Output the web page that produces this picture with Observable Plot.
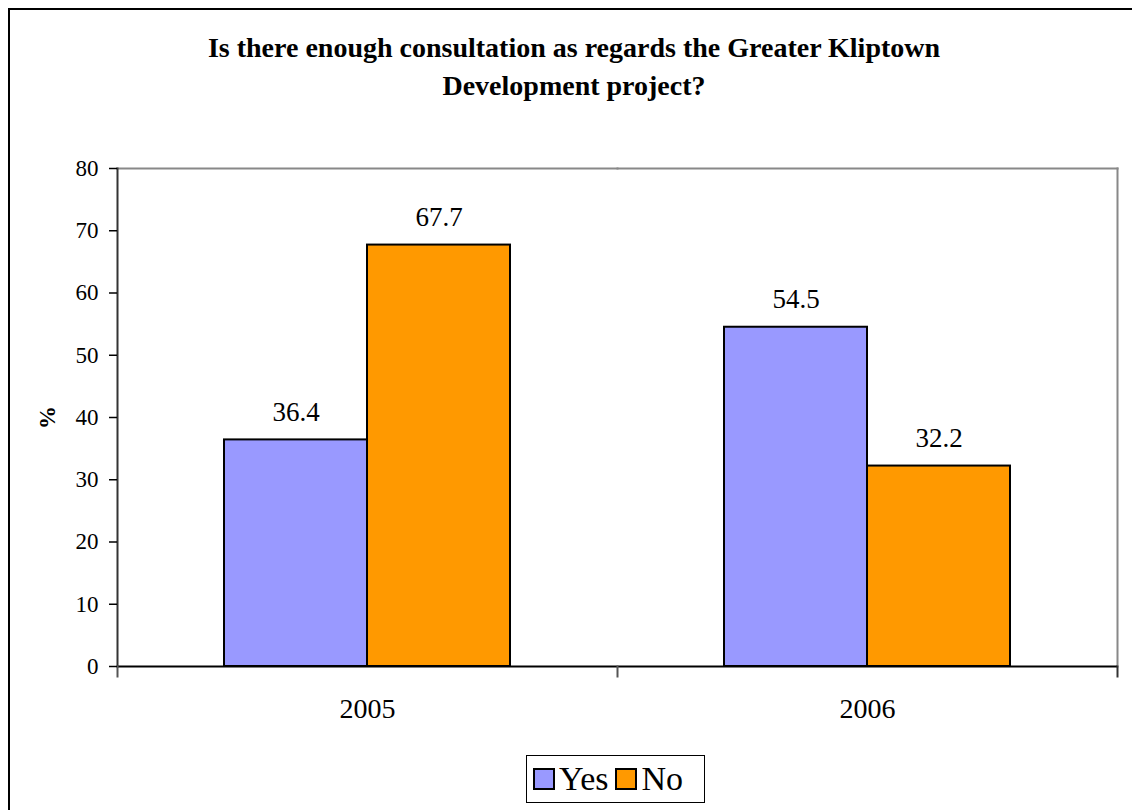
<!DOCTYPE html>
<html>
<head>
<meta charset="utf-8">
<script src="https://cdn.jsdelivr.net/npm/d3@7"></script>
<script src="https://cdn.jsdelivr.net/npm/@observablehq/plot@0.6"></script>
<style>
  html, body { margin: 0; padding: 0; background: #fff; width: 1132px; height: 810px; overflow: hidden; }
  body { position: relative; font-family: "Liberation Serif", "Times New Roman", serif; }
  #outer { position: absolute; left: 8px; top: 8px; width: 1200px; height: 900px; border: 2px solid #000; box-sizing: border-box; }
  #title { position: absolute; left: 0; width: 1148px; top: 29px; text-align: center; font-weight: bold; font-size: 28px; line-height: 38px; color: #000; font-family: "Liberation Serif", serif; }
  #chart { position: absolute; left: 0; top: 140px; }
  #chart svg, #chart svg text { font-family: "Liberation Serif", serif !important; }
  #chart g[aria-label="y-axis label"] text, #chart g[aria-label="y-axis label"] { font-weight: bold; }
  #legend { position: absolute; left: 526px; top: 755px; width: 179px; height: 48px; border: 1.5px solid #000; box-sizing: border-box; display: flex; align-items: center; padding: 0 0 0 6px; font-size: 34px; background: #fff; font-family: "Liberation Serif", serif; }
  #legend .item { display: flex; align-items: center; margin-right: 7px; }
  #legend .item:last-child { margin-right: 0; }
  #legend .sw { width: 18px; height: 18px; border: 2px solid #000; margin-right: 4px; }
</style>
</head>
<body>
<div id="outer"></div>
<div id="title">Is there enough consultation as regards the Greater Kliptown<br>Development project?</div>
<div id="chart"></div>
<div id="legend"></div>
<script>
const years = ["2005", "2006"];
const seriesNames = ["Yes", "No"];
const yesValues = [36.4, 54.5];
const noValues = [67.7, 32.2];
const seriesColors = ["#9999FF", "#FF9900"];
const yTicks = [0, 10, 20, 30, 40, 50, 60, 70, 80];
const yLabel = "%";

const data = years.flatMap((yr, i) => [
  {year: yr, series: seriesNames[0], value: yesValues[i]},
  {year: yr, series: seriesNames[1], value: noValues[i]}
]);

const W = 1132, H = 600, mT = 28, mB = 74, mL = 116, mR = 15;
const innerH = H - mT - mB;

const chart = Plot.plot({
  width: W, height: H,
  marginTop: mT, marginBottom: mB, marginLeft: mL, marginRight: mR,
  style: {fontFamily: "Liberation Serif, serif", fontSize: "23px", color: "#000", background: "transparent", overflow: "visible"},
  fx: {domain: years, padding: 0},
  x: {domain: seriesNames, paddingInner: 0, paddingOuter: 0.74, axis: null},
  y: {domain: [0, 80]},
  color: {domain: seriesNames, range: seriesColors},
  marks: [
    Plot.frame({anchor: "top", stroke: "#888", strokeWidth: 2}),
    Plot.frame({anchor: "right", stroke: "#888", strokeWidth: 2, facetAnchor: "right"}),
    Plot.barY(data, {fx: "year", x: "series", y: "value", fill: "series", stroke: "#000", strokeWidth: 2}),
    Plot.ruleY([0], {stroke: "#000", strokeWidth: 2}),
    Plot.frame({anchor: "left", stroke: "#333", strokeWidth: 2, facetAnchor: "left"}),
    Plot.frame({anchor: "left", stroke: "#555", strokeWidth: 2, insetTop: innerH, insetBottom: -10}),
    Plot.frame({anchor: "right", stroke: "#333", strokeWidth: 2, insetTop: innerH, insetBottom: -10, facetAnchor: "right"}),
    Plot.text(data, {fx: "year", x: "series", y: "value", text: d => d.value.toFixed(1), dy: -28, fontSize: 27}),
    Plot.axisY({ticks: yTicks, tickSize: 8, tickPadding: 11, strokeWidth: 1.5, label: yLabel, labelAnchor: "center", labelOffset: 79, labelArrow: "none", fontSize: 23}),
    Plot.axisFx({anchor: "bottom", tickSize: 0, tickPadding: 32, fontSize: 28, label: null})
  ]
});
document.getElementById("chart").appendChild(chart);

const legend = document.getElementById("legend");
seriesNames.forEach((name, i) => {
  const item = document.createElement("div");
  item.className = "item";
  const sw = document.createElement("div");
  sw.className = "sw";
  sw.style.background = seriesColors[i];
  const t = document.createElement("span");
  t.textContent = name;
  item.appendChild(sw);
  item.appendChild(t);
  legend.appendChild(item);
});
</script>
</body>
</html>
